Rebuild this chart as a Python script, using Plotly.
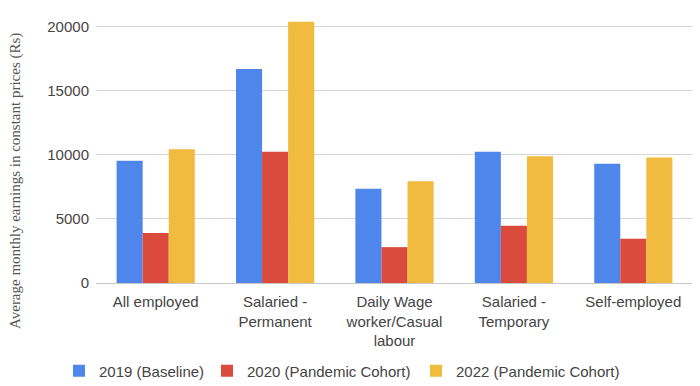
import plotly.graph_objects as go

categories = ["All employed", "Salaried -<br>Permanent", "Daily Wage<br>worker/Casual<br>labour",
              "Salaried -<br>Temporary", "Self-employed"]
series_names = ["2019 (Baseline)", "2020 (Pandemic Cohort)", "2022 (Pandemic Cohort)"]
values_2019 = [9550, 16700, 7350, 10250, 9300]
values_2020 = [3900, 10250, 2800, 4470, 3450]
values_2022 = [10450, 20400, 7950, 9900, 9800]
colors = ["#4f86ec", "#db4b3d", "#f1bb3f"]
y_ticks = [0, 5000, 10000, 15000, 20000]

legend_ids = ["legend", "legend2", "legend3"]

# the page body has an 8px margin, so the figure is drawn 8px in from the window edge
OFF = 8
W, H = 700 - OFF, 386 - OFF
ML, MR, MT, MB = 96 - OFF, 7, 6, 103
PW, PH = W - ML - MR, H - MT - MB
legend_text_x = [99 - OFF, 247 - OFF, 456 - OFF]  # px where each legend label starts

fig = go.Figure()
for name, vals, col, lid in zip(series_names, [values_2019, values_2020, values_2022], colors, legend_ids):
    fig.add_trace(go.Bar(x=categories, y=vals, name=name, legend=lid, showlegend=True,
                         marker=dict(color=col, line=dict(width=0))))

legend_style = dict(orientation="h", xref="container", yref="container", xanchor="left",
                    yanchor="middle", y=(H - (371 - OFF)) / H, bgcolor="rgba(0,0,0,0)",
                    font=dict(family="Liberation Sans, Arial", size=15, color="#444444"),
                    itemwidth=30)

fig.update_layout(
    width=W, height=H,
    showlegend=True,
    margin=dict(l=ML, r=MR, t=MT, b=MB, autoexpand=False),
    paper_bgcolor="white", plot_bgcolor="white",
    barmode="group", bargap=0.345, bargroupgap=0,
    font=dict(family="Liberation Sans, Arial", size=15, color="#444444"),
    xaxis=dict(tickfont=dict(size=15, color="#444444"), showgrid=False, showline=False, ticks="",
               automargin=False, ticklabelstandoff=8),
    yaxis=dict(range=[0, 21000], tickvals=y_ticks, ticktext=[str(v) for v in y_ticks],
               gridcolor="#d6d6d6", gridwidth=1, zeroline=True, zerolinecolor="#c8c8c8",
               zerolinewidth=1, showline=False, ticks="", automargin=False, ticklabelstandoff=6,
               tickfont=dict(size=15, color="#444444")),
    legend=dict(legend_style, x=(legend_text_x[0] - 40) / W),
    legend2=dict(legend_style, x=(legend_text_x[1] - 40) / W),
    legend3=dict(legend_style, x=(legend_text_x[2] - 40) / W),
    annotations=[dict(text="Average monthly earnings in constant prices (Rs)", textangle=-90,
                      xref="paper", yref="paper",
                      x=((15 - OFF) - ML) / PW, y=((MT + PH) - (181 - OFF)) / PH,
                      xanchor="center", yanchor="middle", showarrow=False,
                      font=dict(family="Liberation Serif, Times New Roman", size=15, color="#555555"))],
)

fig.write_html("out.html")
